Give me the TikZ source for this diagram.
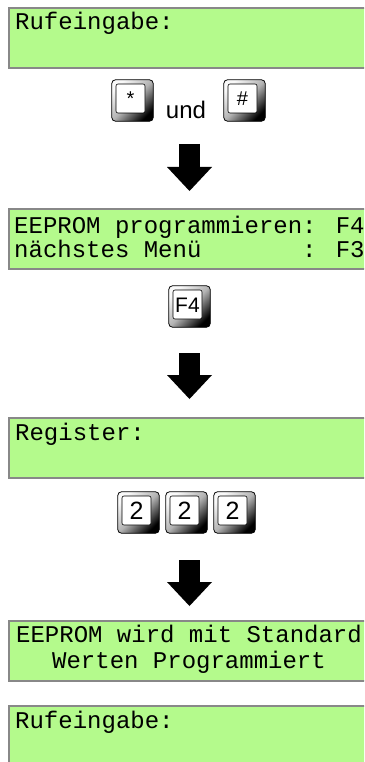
\documentclass[tikz,border=0pt]{standalone}
\usepackage{fontspec}
\setmainfont{Liberation Sans}
\newfontfamily\lcdfont{Liberation Mono}
\usetikzlibrary{arrows.meta,backgrounds}
\definecolor{lcdgruen}{RGB}{180,250,140}
\definecolor{lcdrand}{RGB}{136,136,136}

\begin{document}
\begin{tikzpicture}[x=1pt, y=-1pt,
  anzeige/.style = {draw=lcdrand, line width=2pt, fill=lcdgruen,
    minimum width=420pt, minimum height=60pt, inner sep=0pt, anchor=north west},
  zeile/.style = {font=\lcdfont\fontsize{24}{24}\selectfont,
    inner sep=0pt, anchor=base west},
  taste/.style = {draw, line width=.6pt, rounded corners=2pt, fill=white,
    minimum size=29pt, inner sep=0pt, text depth=0pt,
    font=\fontsize{#1}{#1}\selectfont, text height=.72*#1 pt},
  rahmen/.style = {draw, line width=.8pt, rounded corners=4pt,
    top color=gray!5, bottom color=black, middle color=gray!60, shading angle=45},
  pfeil/.style = {line width=21pt,
    -{Triangle[length=24pt, width=45pt, line width=0pt]}}]
  \useasboundingbox (0,0) rectangle (364,762);
  \clip (0,0) rectangle (364,762);

  % Rufeingabe
  \node[anzeige] (ruf1) at (8,7) {};
  \node[zeile] (ruf1text) at ([shift={(7,23)}]ruf1.north west) {Rufeingabe:};

  \node[taste=20] (stern) at (130.5,98.5) {*};
  \node[anchor=base, inner sep=0pt, font=\fontsize{24}{24}\selectfont] (und)
    at (186,119) {und};
  \node[taste=20] (raute) at (242.5,98.5) {\#};

  \coordinate (p1a) at (189.5,144);
  \coordinate (p1b) at (189.5,191);
  \draw[pfeil] (p1a) -- (p1b);

  % EEPROM Menue
  \node[anzeige] (menue) at (8,208) {};
  \node[zeile] (menue1) at ([shift={(6,25)}]menue.north west)
    {EEPROM programmieren: F4};
  \node[zeile] (menue2) at ([shift={(6,49)}]menue.north west)
    {nächstes Menü~~~~~~~: F3};

  \node[taste=21] (ffour) at (187.5,304.5) {F4};

  \coordinate (p2a) at (189.5,353);
  \coordinate (p2b) at (189.5,399);
  \draw[pfeil] (p2a) -- (p2b);

  % Register
  \node[anzeige] (reg) at (8,417) {};
  \node[zeile] (regtext) at ([shift={(7,23)}]reg.north west) {Register:};

  \foreach \x [count=\i] in {136.5,184.5,232.5}
    \node[taste=25] (zwei\i) at (\x,510.5) {2};

  \coordinate (p3a) at (189.5,560);
  \coordinate (p3b) at (189.5,606);
  \draw[pfeil] (p3a) -- (p3b);

  % Standardwerte
  \node[anzeige] (std) at (8,620) {};
  \node[zeile, anchor=base] (std1) at ([shift={(181,22)}]std.north west)
    {EEPROM wird mit Standard};
  \node[zeile, anchor=base] (std2) at ([shift={(181,48)}]std.north west)
    {Werten Programmiert};

  % zurueck zur Rufeingabe
  \node[anzeige] (ruf2) at (8,705) {};
  \node[zeile] (ruf2text) at ([shift={(7,23)}]ruf2.north west) {Rufeingabe:};

  % Tastenrahmen
  \begin{scope}[on background layer]
    \foreach \t in {stern,raute,ffour,zwei1,zwei2,zwei3}
      \draw[rahmen] ([shift={(-4,-4)}]\t.north west)
        rectangle ([shift={(8,8)}]\t.south east);
  \end{scope}
\end{tikzpicture}
\end{document}
